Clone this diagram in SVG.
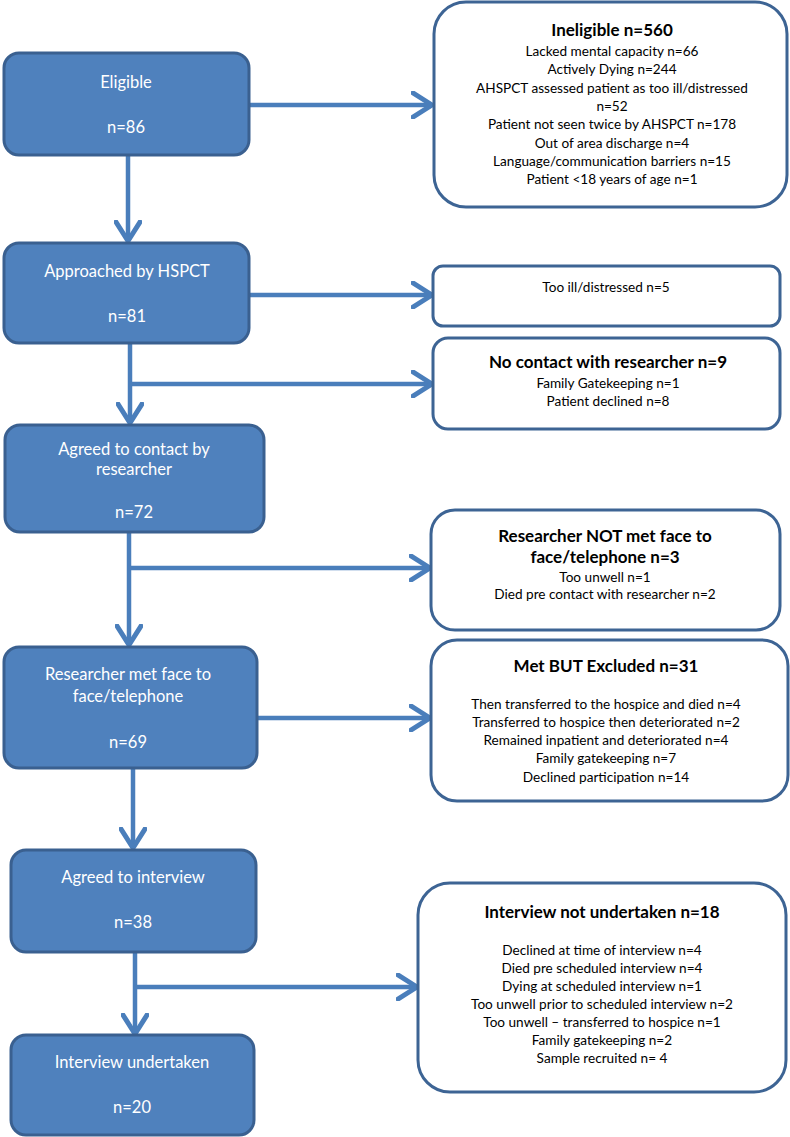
<svg xmlns="http://www.w3.org/2000/svg" width="790" height="1137" viewBox="0 0 790 1137">
<style>
.bn rect{fill:#4f81bd;stroke:#3a6090;stroke-width:3}
.bn text{fill:#ffffff;font-family:Lato,"Liberation Sans",sans-serif;font-size:16.5px;text-anchor:middle}
.wn rect{fill:#ffffff;stroke:#3d6494;stroke-width:3}
.wn text{fill:#000000;font-family:Lato,"Liberation Sans",sans-serif;font-size:13.6px;text-anchor:middle}
.wn text.t{font-weight:bold;font-size:17px}
.c line,.c polyline{stroke:#4a7ebb;stroke-width:4.5;fill:none}
</style>
<defs>
<marker id="ah" markerUnits="userSpaceOnUse" viewBox="0 0 24 28" refX="21" refY="14" markerWidth="24" markerHeight="28" orient="auto">
<path d="M2,2 L21,14 L2,26" fill="none" stroke="#4a7ebb" stroke-width="5" stroke-linecap="round" stroke-linejoin="round"/>
</marker>
</defs>
<g class="c" id="connectors">
<line x1="249" y1="105" x2="432" y2="105" marker-end="url(#ah)"/>
<line x1="128" y1="155" x2="128" y2="241" marker-end="url(#ah)"/>
<line x1="249" y1="295" x2="432" y2="295" marker-end="url(#ah)"/>
<line x1="130" y1="343" x2="130" y2="423" marker-end="url(#ah)"/>
<line x1="130" y1="384" x2="432" y2="384" marker-end="url(#ah)"/>
<line x1="129" y1="532" x2="129" y2="645" marker-end="url(#ah)"/>
<line x1="129" y1="568" x2="430" y2="568" marker-end="url(#ah)"/>
<line x1="257" y1="718" x2="430" y2="718" marker-end="url(#ah)"/>
<line x1="133" y1="768" x2="133" y2="848" marker-end="url(#ah)"/>
<line x1="135" y1="952" x2="135" y2="1034" marker-end="url(#ah)"/>
<line x1="135" y1="987" x2="417" y2="987" marker-end="url(#ah)"/>
</g>
<g class="bn" id="eligible">
<rect x="4" y="53" width="245" height="102" rx="15"/>
<text x="126" y="88">Eligible</text>
<text x="126" y="133">n=86</text>
</g>
<g class="wn" id="ineligible">
<rect x="434" y="2" width="353" height="205" rx="32"/>
<text class="t" x="612" y="36">Ineligible n=560</text>
<text x="612" y="56">Lacked mental capacity n=66</text>
<text x="612" y="74">Actively Dying n=244</text>
<text x="612" y="93">AHSPCT assessed patient as too ill/distressed</text>
<text x="612" y="111">n=52</text>
<text x="612" y="129">Patient not seen twice by AHSPCT n=178</text>
<text x="612" y="148">Out of area discharge n=4</text>
<text x="612" y="166">Language/communication barriers n=15</text>
<text x="612" y="184">Patient &lt;18 years of age n=1</text>
</g>
<g class="bn" id="approached">
<rect x="4" y="243" width="245" height="100" rx="15"/>
<text x="127" y="277">Approached by HSPCT</text>
<text x="127" y="322">n=81</text>
</g>
<g class="wn" id="too-ill">
<rect x="433" y="266" width="347" height="60" rx="10"/>
<text x="606" y="292">Too ill/distressed n=5</text>
</g>
<g class="wn" id="no-contact">
<rect x="433" y="338" width="347" height="91" rx="15"/>
<text class="t" x="608" y="368">No contact with researcher n=9</text>
<text x="608" y="388">Family Gatekeeping n=1</text>
<text x="608" y="406">Patient declined n=8</text>
</g>
<g class="bn" id="agreed-contact">
<rect x="5" y="425" width="259" height="107" rx="15"/>
<text x="134" y="455">Agreed to contact by</text>
<text x="134" y="475">researcher</text>
<text x="134" y="518">n=72</text>
</g>
<g class="wn" id="not-met">
<rect x="431" y="510" width="349" height="120" rx="24"/>
<text class="t" x="605" y="542">Researcher NOT met face to</text>
<text class="t" x="605" y="563">face/telephone n=3</text>
<text x="605" y="582">Too unwell n=1</text>
<text x="605" y="599">Died pre contact with researcher n=2</text>
</g>
<g class="bn" id="met">
<rect x="4" y="647" width="253" height="121" rx="15"/>
<text x="128" y="680">Researcher met face to</text>
<text x="128" y="702">face/telephone</text>
<text x="128" y="748">n=69</text>
</g>
<g class="wn" id="met-excluded">
<rect x="431" y="640" width="357" height="161" rx="26"/>
<text class="t" x="606" y="672">Met BUT Excluded n=31</text>
<text x="606" y="709">Then transferred to the hospice and died n=4</text>
<text x="606" y="727">Transferred to hospice then deteriorated n=2</text>
<text x="606" y="745">Remained inpatient and deteriorated n=4</text>
<text x="606" y="763">Family gatekeeping n=7</text>
<text x="606" y="782">Declined participation n=14</text>
</g>
<g class="bn" id="agreed-interview">
<rect x="11" y="850" width="245" height="102" rx="15"/>
<text x="133" y="883">Agreed to interview</text>
<text x="133" y="928">n=38</text>
</g>
<g class="wn" id="not-undertaken">
<rect x="418" y="883" width="368" height="209" rx="32"/>
<text class="t" x="602" y="918">Interview not undertaken n=18</text>
<text x="602" y="955">Declined at time of interview n=4</text>
<text x="602" y="973">Died pre scheduled interview n=4</text>
<text x="602" y="991">Dying at scheduled interview n=1</text>
<text x="602" y="1009">Too unwell prior to scheduled interview n=2</text>
<text x="602" y="1027">Too unwell – transferred to hospice n=1</text>
<text x="602" y="1045">Family gatekeeping n=2</text>
<text x="602" y="1063">Sample recruited n= 4</text>
</g>
<g class="bn" id="undertaken">
<rect x="11" y="1035" width="243" height="100" rx="15"/>
<text x="132" y="1068">Interview undertaken</text>
<text x="132" y="1113">n=20</text>
</g>
</svg>
